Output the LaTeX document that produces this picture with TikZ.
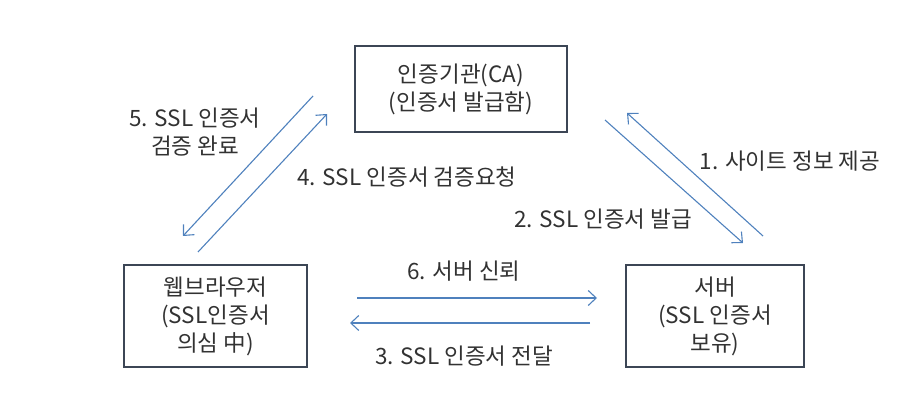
\documentclass[tikz,border=0pt]{standalone}
\usepackage{fontspec}
\setmainfont{Noto Sans CJK KR}
\usetikzlibrary{arrows.meta}
\definecolor{txt}{RGB}{50,50,50}
\definecolor{boxc}{RGB}{60,70,85}
\definecolor{arr}{RGB}{79,129,189}
\tikzset{
  ent/.style={draw=boxc, line width=1.6pt, align=center, text=txt, inner sep=0pt,
    font=\fontsize{22.5}{28}\selectfont},
  lbl/.style={align=center, text=txt, inner sep=0pt, font=\fontsize{22.5}{28}\selectfont},
  flow/.style={draw=arr, line width=1.1pt, -{Straight Barb[length=8pt,width=15pt,line width=1.1pt]}}
}
\begin{document}
\begin{tikzpicture}[x=1pt,y=-1pt]
\useasboundingbox (0,0) rectangle (916,419);
\node[ent, minimum width=212pt, minimum height=86pt] (ca) at (461,89) {인증기관(CA)\\(인증서 발급함)};
\node[ent, minimum width=183pt, minimum height=102pt] (br) at (215.5,316) {웹브라우저\\(SSL인증서\\의심 中)};
\node[ent, minimum width=178pt, minimum height=102pt] (sv) at (715,316) {서버\\(SSL 인증서\\보유)};
% arrow end points
\coordinate (a5s) at (313,96);  \coordinate (a5e) at (183,236);
\coordinate (a4s) at (198,252); \coordinate (a4e) at (327,114);
\coordinate (a1s) at (763,236); \coordinate (a1e) at (627,113);
\coordinate (a2s) at (605,120); \coordinate (a2e) at (743,243);
\coordinate (a6s) at (357,298); \coordinate (a6e) at (597,298);
\coordinate (a3s) at (590,323); \coordinate (a3e) at (350,323);
\draw[flow] (a5s) -- (a5e);
\draw[flow] (a4s) -- (a4e);
\draw[flow] (a1s) -- (a1e);
\draw[flow] (a2s) -- (a2e);
\draw[flow] (a6s) -- (a6e);
\draw[flow] (a3s) -- (a3e);
% labels
\node[lbl] (l5) at (195,132) {5. SSL 인증서\\검증 완료};
\node[lbl] (l4) at (407,177) {4. SSL 인증서 검증요청};
\node[lbl] (l2) at (603,219) {2. SSL 인증서 발급};
\node[lbl] (l1) at (790,161) {1. 사이트 정보 제공};
\node[lbl] (l6) at (464,271) {6. 서버 신뢰};
\node[lbl] (l3) at (464,356) {3. SSL 인증서 전달};
\end{tikzpicture}
\end{document}
